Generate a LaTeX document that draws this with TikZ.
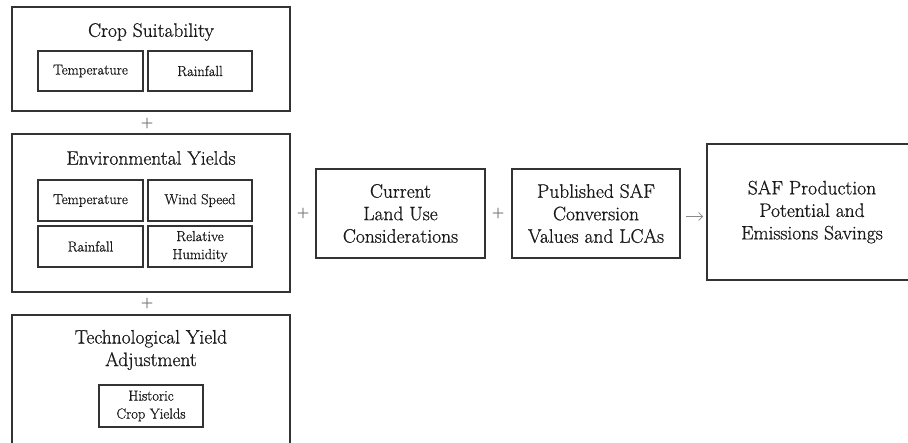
\documentclass[tikz,border=0pt]{standalone}
\usepackage{fontspec}
\setmainfont{Latin Modern Roman}[FakeBold=0.8]
\usetikzlibrary{arrows.meta}
\definecolor{edge}{HTML}{333333}
\definecolor{ink}{HTML}{1A1A1A}
\definecolor{light}{HTML}{8A8A8A}
\begin{document}
\begin{tikzpicture}[x=1pt,y=-1pt,
  outer/.style={draw=edge,line width=1.7pt,inner sep=0pt},
  inner/.style={draw=edge,line width=1.7pt,inner sep=0pt,align=center,text=ink,
    font=\fontsize{14.5}{18}\selectfont},
  big/.style={align=center,text=ink,inner sep=0pt,font=\fontsize{19.5}{22.5}\selectfont},
  plus/.style={text=light,inner sep=0pt,font=\fontsize{17}{20}\selectfont},
  conn/.style={draw=light,line width=0.7pt,-{Straight Barb[length=4pt,width=8pt]}}]
\clip (0,0) rectangle (908,443);
\fill[white] (0,0) rectangle (908,443);
% Crop suitability
\node[outer,minimum width=278pt,minimum height=104pt] (cs) at (151,59) {};
\node[big] (cst) at (151,32) {Crop Suitability};
\node[inner,minimum width=105pt,minimum height=40pt] (cst1) at (90.5,71) {Temperature};
\node[inner,minimum width=104pt,minimum height=40pt] (csr1) at (200,71) {Rainfall};
\node[plus] (p1) at (147,123) {+};
% Environmental yields
\node[outer,minimum width=278pt,minimum height=158pt] (ey) at (151,213) {};
\node[big] (eyt) at (151,158) {Environmental Yields};
\node[inner,minimum width=105pt,minimum height=41pt] (eyte) at (90.5,200.5) {Temperature};
\node[inner,minimum width=104pt,minimum height=41pt] (eyw) at (200,200.5) {Wind Speed};
\node[inner,minimum width=105pt,minimum height=41pt] (eyr) at (90.5,246.5) {Rainfall};
\node[inner,minimum width=104pt,minimum height=41pt] (eyh) at (200,246.5) {Relative\\Humidity};
\node[plus] (p2) at (147,303) {+};
% Technological yield
\node[outer,minimum width=278pt,minimum height=160pt] (ty) at (151,395) {};
\node[big] (tyt) at (151,350) {Technological Yield\\Adjustment};
\node[inner,minimum width=104pt,minimum height=42pt] (hist) at (151,406) {Historic\\Crop Yields};
% right chain
\node[plus] (p3) at (303,213) {+};
\node[outer,big,minimum width=169pt,minimum height=89pt] (cl) at (400.5,213.5) {Current\\Land Use\\Considerations};
\node[plus] (p4) at (498,213) {+};
\node[outer,big,minimum width=168pt,minimum height=89pt] (ps) at (596,213.5) {Published SAF\\Conversion\\Values and LCAs};
\node[outer,big,minimum width=210pt,minimum height=136pt] (saf) at (812,212) {SAF Production\\Potential and\\Emissions Savings};
\draw[conn,shorten <=5pt,shorten >=3pt] ([yshift=-3pt]ps.east) -- ([yshift=-3pt]ps.east -| saf.west);
\end{tikzpicture}
\end{document}
